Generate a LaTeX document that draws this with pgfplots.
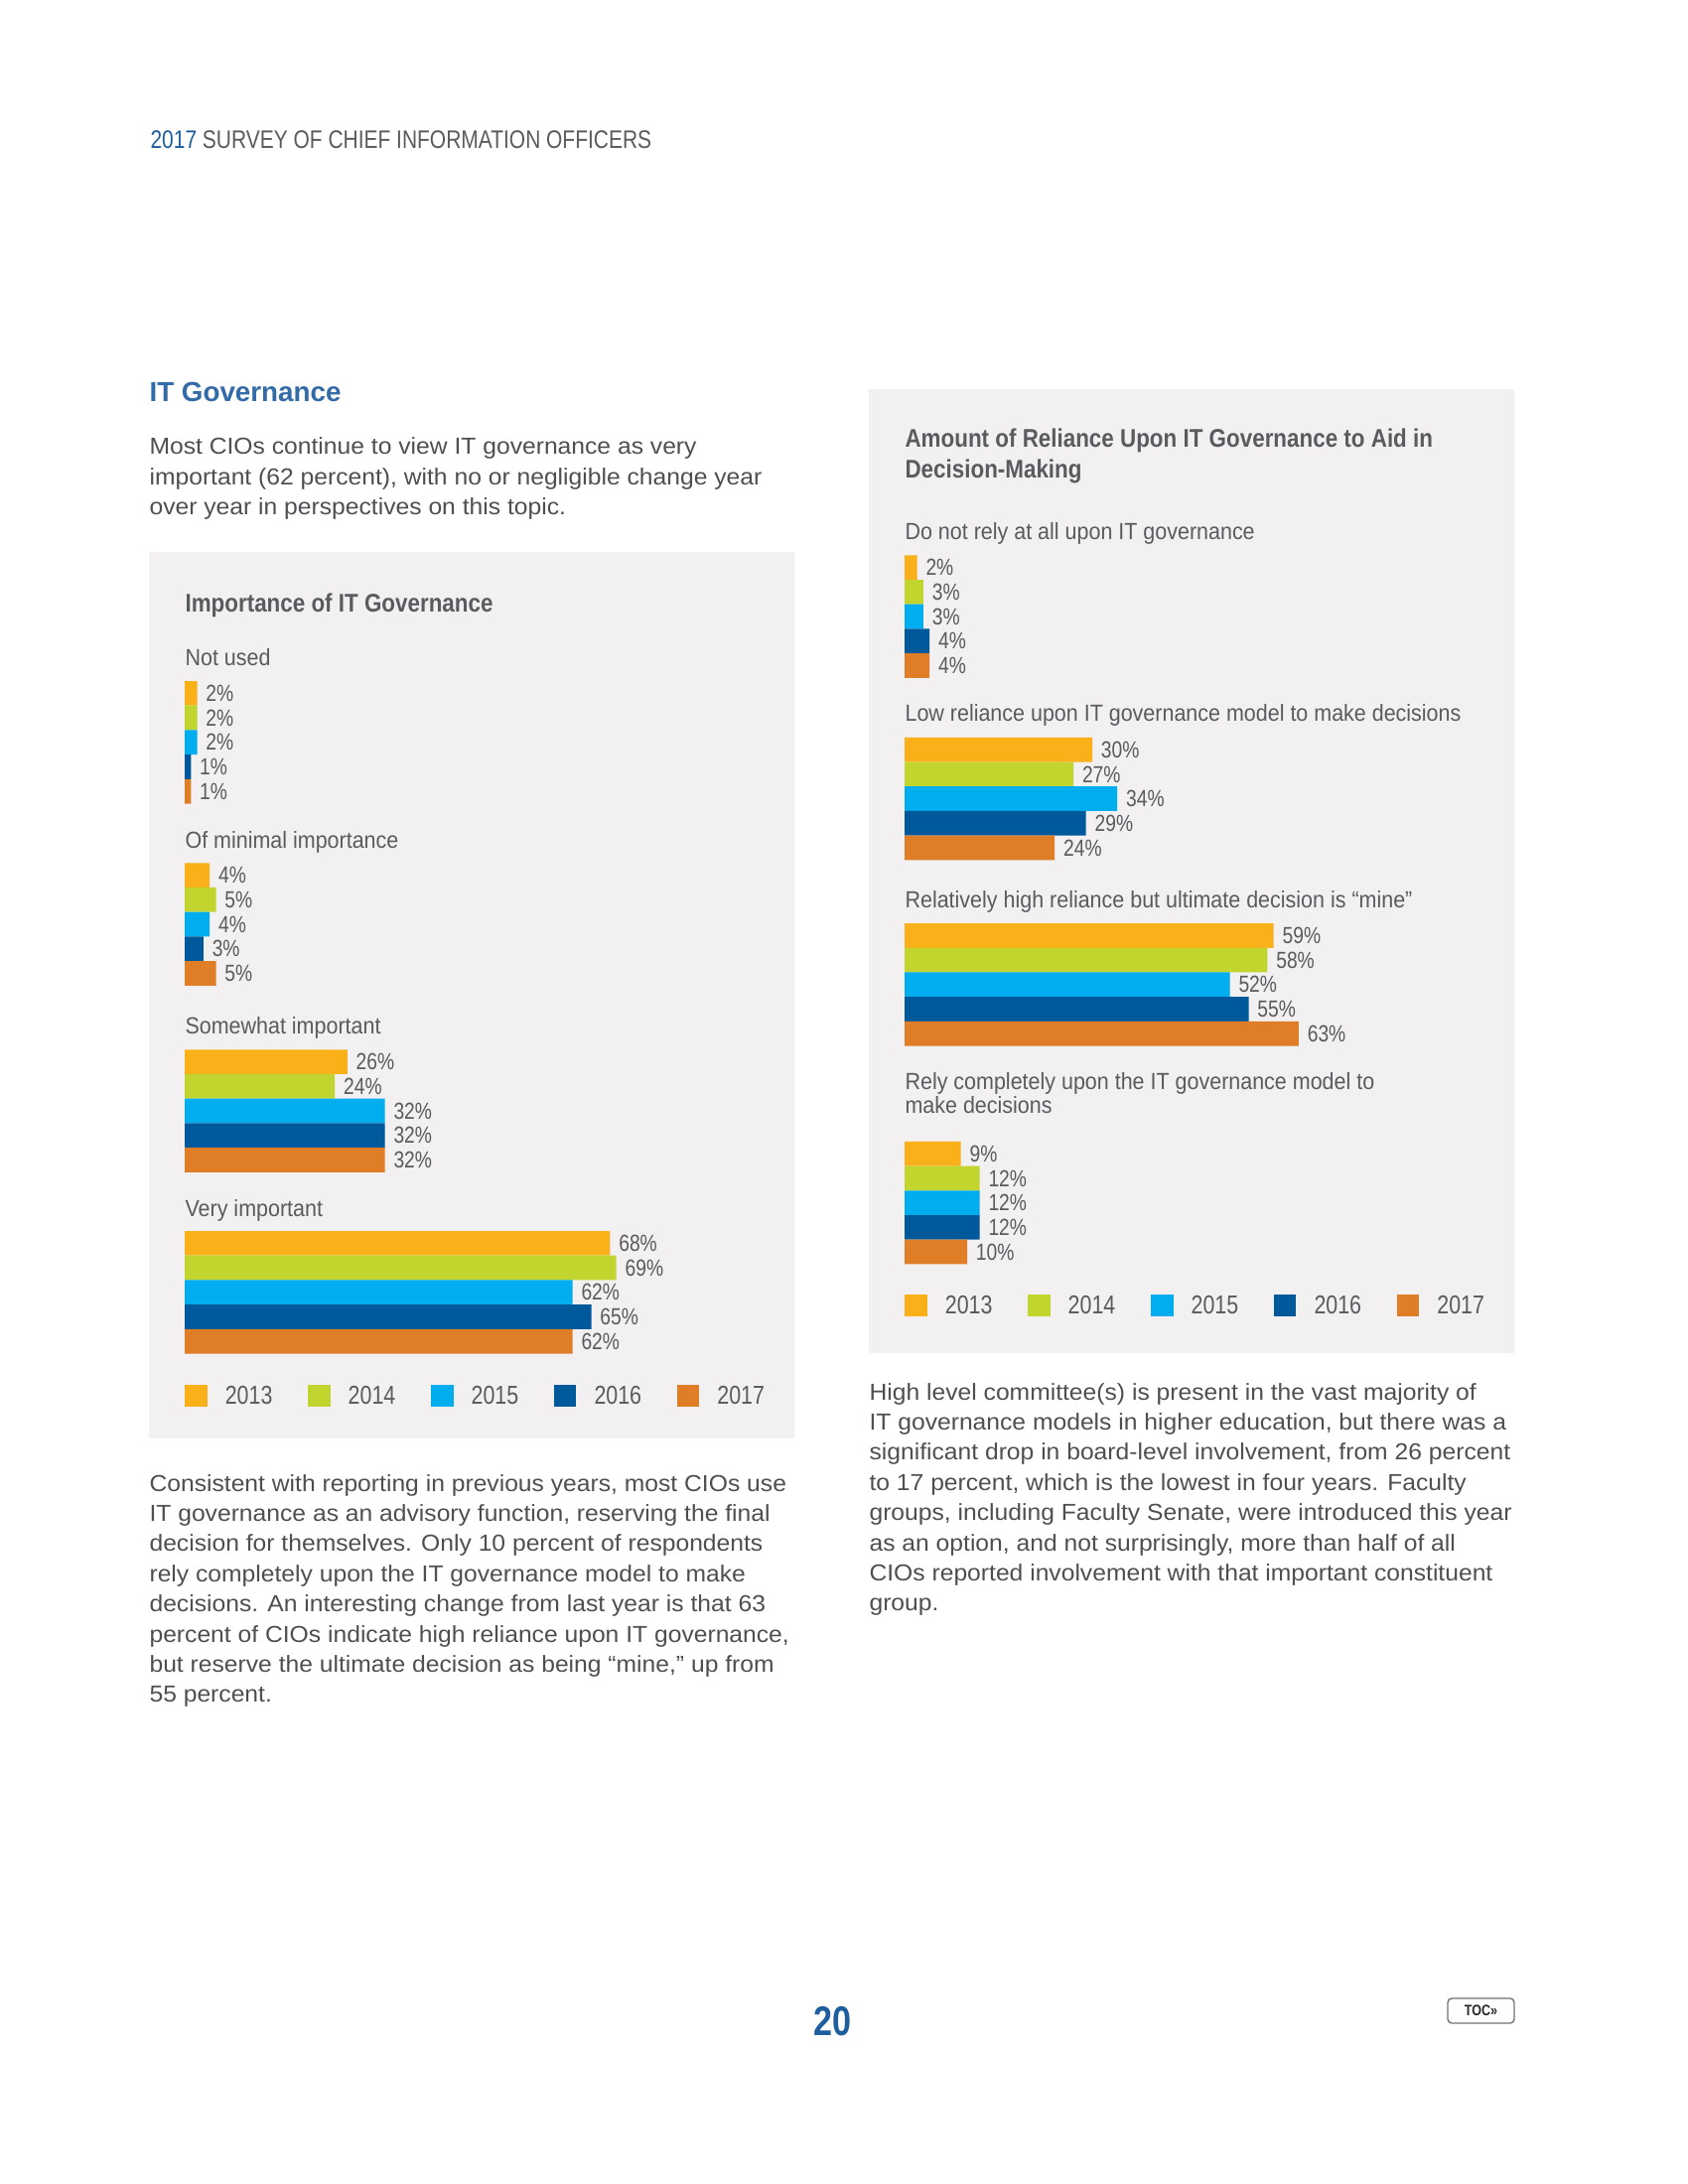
\documentclass[border=0pt]{standalone}
\usepackage{fontspec}
\usepackage{pgfplots}
\usepackage{pgfplotstable}
\pgfplotsset{compat=1.18}
\setmainfont{Liberation Sans}
\newfontfamily\bodyfont{Liberation Sans}[FakeStretch=1.057]
\newfontfamily\condfont{Liberation Sans}[FakeStretch=0.915]
\newfontfamily\narrowfont{Liberation Sans}[FakeStretch=0.82]
\newfontfamily\titlefont{Liberation Sans}[FakeStretch=0.87]

\newcommand\fBody{\bodyfont\fontsize{8.4}{10}\selectfont}
\newcommand\fCat{\condfont\fontsize{8.45}{10}\selectfont}
\newcommand\fPct{\narrowfont\fontsize{8.45}{10}\selectfont}
\newcommand\fLeg{\narrowfont\fontsize{9.4}{11}\selectfont}
\newcommand\fTitle{\titlefont\bfseries\fontsize{9.27}{11}\selectfont}
\newcommand\fHead{\narrowfont\fontsize{9.2}{11}\selectfont}

\definecolor{cA}{HTML}{F9B019}
\definecolor{cB}{HTML}{C2D52F}
\definecolor{cC}{HTML}{00ADEE}
\definecolor{cD}{HTML}{00599A}
\definecolor{cE}{HTML}{E07E27}
\definecolor{panel}{HTML}{F2F0F1}
\definecolor{lab}{HTML}{5A5B5F}
\definecolor{body}{HTML}{4E4F52}
\definecolor{blueT}{HTML}{336AA8}
\definecolor{blueH}{HTML}{1E5E9E}

% group position (in bar heights), then one column per year 2013..2017
\pgfplotstableread{
g      a  b  c  d  e
0      2  2  2  1  1
7.42   4  5  4  3  5
15.03 26 24 32 32 32
22.43 68 69 62 65 62
}\importance

\pgfplotstableread{
g      a  b  c  d  e
0      2  3  3  4  4
7.43  30 27 34 29 24
15.01 59 58 52 55 63
23.91  9 12 12 12 10
}\reliance

\pgfplotsset{
  yr/.style={xbar, bar width=1, bar shift=0pt, draw=none, fill=#1,
    legend image code/.code={\fill[#1] (0pt,-3.4pt) rectangle (8.2pt,4.5pt);}},
  panelaxis/.style={
    anchor=north west,
    x=2.268pt, y=8.892pt, y dir=reverse,
    xmin=0, ymin=-0.5,
    hide axis, clip=false,
    /pgf/number format/assume math mode=true,
    nodes near coords, point meta=x,
    nodes near coords={\pgfmathprintnumber{\pgfplotspointmeta}\%},
    every node near coord/.append style={anchor=west, xshift=3pt,
      inner sep=0pt, font=\fPct, text=lab},
    legend columns=5,
    legend style={draw=none, fill=none, inner sep=0pt, outer sep=0pt,
      anchor=west, font=\fLeg, text=lab, column sep=6.5pt,
      nodes={inner sep=0pt, text width=23.4pt, align=left, anchor=west}},
  },
}

\begin{document}
\begin{tikzpicture}[x=0.36pt, y=-0.36pt]
\useasboundingbox (0,0) rectangle (1700,2200);
\fill[white] (0,0) rectangle (1700,2200);

% panels
\fill[panel] (150,556) rectangle (800,1449);
\fill[panel] (875,392) rectangle (1525,1363);

% header
\node[anchor=base west, inner sep=0pt, font=\fHead, text=lab] at (151,150)
  {\textcolor{blueH}{2017} SURVEY OF CHIEF INFORMATION OFFICERS};
\node[anchor=base west, inner sep=0pt, font=\bfseries\fontsize{10}{12}\selectfont, text=blueT]
  at (150,405) {IT Governance};

\begin{scope}[every node/.style={anchor=base west, inner sep=0pt, font=\fBody, text=body}]
\node at (150,457.7) {Most CIOs continue to view IT governance as very};
\node at (150,488.0) {important (62 percent), with no or negligible change year};
\node at (150,518.3) {over year in perspectives on this topic.};

\node at (150,1502.0) {Consistent with reporting in previous years, most CIOs use};
\node at (150,1532.4) {IT governance as an advisory function, reserving the final};
\node at (150,1562.8) {decision for themselves. Only 10 percent of respondents};
\node at (150,1593.2) {rely completely upon the IT governance model to make};
\node at (150,1623.6) {decisions. An interesting change from last year is that 63};
\node at (150,1654.0) {percent of CIOs indicate high reliance upon IT governance,};
\node at (150,1684.4) {but reserve the ultimate decision as being “mine,” up from};
\node at (150,1714.8) {55 percent.};

\node at (875,1410.0) {High level committee(s) is present in the vast majority of};
\node at (875,1440.4) {IT governance models in higher education, but there was a};
\node at (875,1470.8) {significant drop in board-level involvement, from 26 percent};
\node at (875,1501.2) {to 17 percent, which is the lowest in four years. Faculty};
\node at (875,1531.6) {groups, including Faculty Senate, were introduced this year};
\node at (875,1562.0) {as an option, and not surprisingly, more than half of all};
\node at (875,1592.4) {CIOs reported involvement with that important constituent};
\node at (875,1622.8) {group.};
\end{scope}

% left chart
\begin{axis}[panelaxis, at={({186*0.36pt},{-686*0.36pt})}, xmax=80, ymax=26.93,
  legend style={at={(axis cs:0,28.67)}}]
\addplot[yr=cA] table[x=a, y expr=\thisrow{g}+0] {\importance};
\addlegendentry{2013}
\addplot[yr=cB] table[x=b, y expr=\thisrow{g}+1] {\importance};
\addlegendentry{2014}
\addplot[yr=cC] table[x=c, y expr=\thisrow{g}+2] {\importance};
\addlegendentry{2015}
\addplot[yr=cD] table[x=d, y expr=\thisrow{g}+3] {\importance};
\addlegendentry{2016}
\addplot[yr=cE] table[x=e, y expr=\thisrow{g}+4] {\importance};
\addlegendentry{2017}
\end{axis}

% right chart
\begin{axis}[panelaxis, at={({911*0.36pt},{-559.3*0.36pt})}, xmax=70, ymax=28.41,
  legend style={at={(axis cs:0,30.13)}}]
\addplot[yr=cA] table[x=a, y expr=\thisrow{g}+0] {\reliance};
\addlegendentry{2013}
\addplot[yr=cB] table[x=b, y expr=\thisrow{g}+1] {\reliance};
\addlegendentry{2014}
\addplot[yr=cC] table[x=c, y expr=\thisrow{g}+2] {\reliance};
\addlegendentry{2015}
\addplot[yr=cD] table[x=d, y expr=\thisrow{g}+3] {\reliance};
\addlegendentry{2016}
\addplot[yr=cE] table[x=e, y expr=\thisrow{g}+4] {\reliance};
\addlegendentry{2017}
\end{axis}

% chart titles and category labels
\begin{scope}[every node/.style={anchor=base west, inner sep=0pt, text=lab}]
\node[font=\fTitle] at (186,616) {Importance of IT Governance};
\node[font=\fCat] at (186,670) {Not used};
\node[font=\fCat] at (186,854) {Of minimal importance};
\node[font=\fCat] at (186,1041.7) {Somewhat important};
\node[font=\fCat] at (186,1225) {Very important};

\node[font=\fTitle] at (911,450) {Amount of Reliance Upon IT Governance to Aid in};
\node[font=\fTitle] at (911,481.7) {Decision-Making};
\node[font=\fCat] at (911,543.3) {Do not rely at all upon IT governance};
\node[font=\fCat] at (911,726.7) {Low reliance upon IT governance model to make decisions};
\node[font=\fCat] at (911,914.3) {Relatively high reliance but ultimate decision is “mine”};
\node[font=\fCat] at (911,1097.7) {Rely completely upon the IT governance model to};
\node[font=\fCat] at (911,1121.7) {make decisions};
\end{scope}

% footer
\node[anchor=base west, inner sep=0pt, text=blueH,
  font=\narrowfont\bfseries\fontsize{15}{18}\selectfont] at (819,2050) {20};
\draw[rounded corners=1.5pt, draw=black!55, line width=0.5pt] (1458,2013) rectangle (1525,2038);
\node[inner sep=0pt, font=\narrowfont\bfseries\fontsize{5.5}{6}\selectfont, text=black!85]
  at (1491.5,2025.5) {TOC»};
\end{tikzpicture}
\end{document}
